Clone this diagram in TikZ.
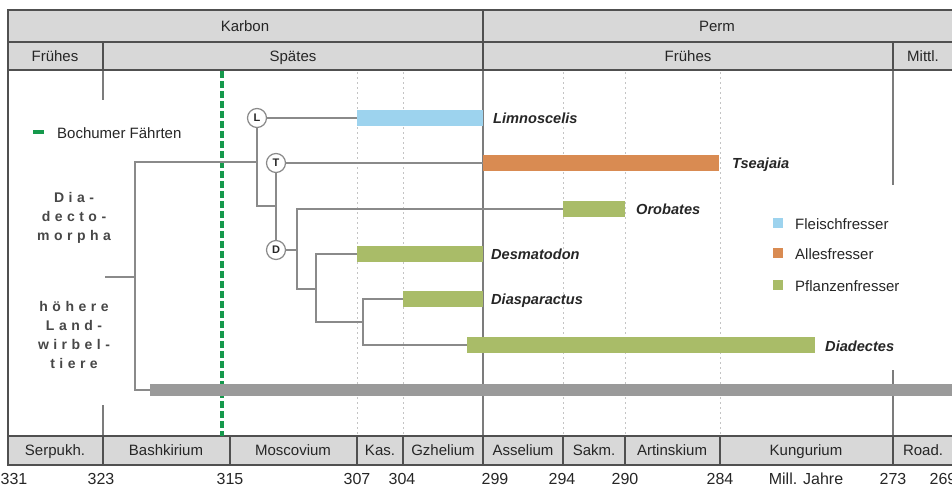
\documentclass[tikz,border=0pt]{standalone}
\usepackage{fontspec}
\setmainfont{Liberation Sans}
\definecolor{hdr}{HTML}{D8D8D8}
\definecolor{frm}{HTML}{505050}
\definecolor{treec}{HTML}{8A8A8A}
\definecolor{carn}{HTML}{9DD3EE}
\definecolor{omni}{HTML}{D98B52}
\definecolor{herb}{HTML}{A9BC68}
\definecolor{barg}{HTML}{9A9A9A}
\definecolor{trk}{HTML}{15994C}
\definecolor{txt}{HTML}{262626}
\definecolor{gridc}{HTML}{C4C4C4}
\begin{document}
\begin{tikzpicture}[x=1pt,y=-1pt,
  every node/.style={text=txt, inner sep=0pt},
  hfont/.style={font=\fontsize{15}{17}\selectfont, anchor=base},
  numfont/.style={font=\fontsize{16}{18}\selectfont, anchor=base},
  species/.style={font=\fontsize{14.6}{17}\selectfont\bfseries\itshape, anchor=base west},
  legtext/.style={font=\fontsize{15}{17}\selectfont, anchor=base west},
  spaced/.style={font=\fontsize{14}{19}\selectfont\bfseries\addfontfeature{LetterSpace=32}, text=txt!85, align=center},
  frame/.style={draw=frm, line width=1.4pt},
  divline/.style={draw=treec!90!black, line width=1.4pt},
  gridline/.style={draw=gridc, line width=0.9pt, dash pattern=on 2pt off 3pt},
  tree/.style={draw=treec, line width=1.4pt},
  bar/.style={rectangle, anchor=west, minimum height=16pt},
  circ/.style={circle, draw=treec, line width=1.2pt, fill=white, minimum size=19pt, font=\fontsize{11}{12}\selectfont\bfseries},
  legsq/.style={rectangle, minimum size=10pt},
  trackline/.style={draw=trk, line width=3.6pt, dash pattern=on 7pt off 3pt}
]
\useasboundingbox (0,0) rectangle (952,488);
% header and bottom fills
\fill[hdr] (8,10) rectangle (952,70);
\fill[hdr] (8,436) rectangle (952,465);
% dotted stage lines
\foreach \x in {357,403,563,625,720} \draw[gridline] (\x,72) -- (\x,434);
% solid dividers in plot area
\draw[divline] (483,70) -- (483,436);
\draw[divline] (893,70) -- (893,185);
\draw[divline] (893,370) -- (893,436);
\draw[divline] (103,70) -- (103,100);
\draw[divline] (103,405) -- (103,436);
% frame
\draw[frame] (952,10) -- (8,10) -- (8,465) -- (952,465);
\draw[frame] (8,42) -- (952,42);
\draw[frame] (8,70) -- (952,70);
\draw[frame] (8,436) -- (952,436);
\draw[frame] (483,10) -- (483,70);
\draw[frame] (103,42) -- (103,70);
\draw[frame] (893,42) -- (893,70);
\foreach \x in {103,230,357,403,483,563,625,720,893} \draw[frame] (\x,436) -- (\x,465);
% header texts
\node[hfont] (karbon) at (245,31) {Karbon};
\node[hfont] (perm) at (717,31) {Perm};
\node[hfont] (fruehK) at (55,61) {Frühes};
\node[hfont] (spaetK) at (293,61) {Spätes};
\node[hfont] (fruehP) at (688,61) {Frühes};
\node[hfont] (mittl) at (923,61) {Mittl.};
% stage names
\node[hfont] (serp) at (55,455) {Serpukh.};
\node[hfont] (bash) at (166,455) {Bashkirium};
\node[hfont] (mosc) at (293,455) {Moscovium};
\node[hfont] (kas) at (380,455) {Kas.};
\node[hfont] (gzhe) at (443,455) {Gzhelium};
\node[hfont] (asse) at (523,455) {Asselium};
\node[hfont] (sakm) at (594,455) {Sakm.};
\node[hfont] (arti) at (672,455) {Artinskium};
\node[hfont] (kung) at (806,455) {Kungurium};
\node[hfont] (road) at (923,455) {Road.};
% numbers
\node[numfont] (n331) at (14,484) {331};
\node[numfont] (n323) at (101,484) {323};
\node[numfont] (n315) at (230,484) {315};
\node[numfont] (n307) at (357,484) {307};
\node[numfont] (n304) at (402,484) {304};
\node[numfont] (n299) at (495,484) {299};
\node[numfont] (n294) at (562,484) {294};
\node[numfont] (n290) at (625,484) {290};
\node[numfont] (n284) at (720,484) {284};
\node[numfont] (mill) at (806,484) {Mill. Jahre};
\node[numfont] (n273) at (893,484) {273};
\node[numfont] (n269) at (943,484) {269};
% track line
\coordinate (trtop) at (222,71);
\coordinate (trbot) at (222,436);
\draw[trackline] (trtop) -- (trbot);
% left texts
\coordinate (legdA) at (33,132);
\coordinate (legdB) at (44,132);
\draw[draw=trk, line width=4.5pt] (legdA) -- (legdB);
\node[legtext] (bochum) at (57,138) {Bochumer Fährten};
\node[spaced] (diadecto) at (74,218) {Dia-\\decto-\\morpha};
\node[spaced] (hoehere) at (74,335) {höhere\\Land-\\wirbel-\\tiere};
% bars
\node[bar, fill=carn, minimum width=126pt] (limb) at (357,118) {};
\node[bar, fill=omni, minimum width=236pt] (tseb) at (483,163) {};
\node[bar, fill=herb, minimum width=62pt] (orob) at (563,209) {};
\node[bar, fill=herb, minimum width=126pt] (desb) at (357,254) {};
\node[bar, fill=herb, minimum width=80pt] (diasb) at (403,299) {};
\node[bar, fill=herb, minimum width=348pt] (diadb) at (467,345) {};
\node[bar, fill=barg, minimum width=802pt, minimum height=12pt] (grayb) at (150,390) {};
% species labels
\node[species] (limn) at (493,123) {Limnoscelis};
\node[species] (tsea) at (732,168) {Tseajaia};
\node[species] (orobt) at (636,214) {Orobates};
\node[species] (desm) at (491,259) {Desmatodon};
\node[species] (dias) at (491,304) {Diasparactus};
\node[species] (diad) at (825,351) {Diadectes};
% legend
\node[legsq, fill=carn] (sq1) at (778,223) {};
\node[legsq, fill=omni] (sq2) at (778,253) {};
\node[legsq, fill=herb] (sq3) at (778,285) {};
\node[legtext] (lg1) at (795,229) {Fleischfresser};
\node[legtext] (lg2) at (795,259) {Allesfresser};
\node[legtext] (lg3) at (795,291) {Pflanzenfresser};
% tree
\node[circ] (L) at (257,118) {L};
\node[circ] (T) at (276,163) {T};
\node[circ] (D) at (276,250) {D};
\coordinate (stub) at (105,277);
\coordinate (rootv) at (135,277);
\coordinate (j1) at (257,162);
\coordinate (j2) at (257,206);
\coordinate (j3) at (276,206);
\coordinate (dsplit) at (297,250);
\coordinate (k1) at (297,289);
\coordinate (k2) at (316,289);
\coordinate (m1) at (316,322);
\coordinate (m2) at (363,322);
\coordinate (p1) at (363,345);
\draw[tree] (stub) -- (rootv);
\draw[tree] (grayb.west) -| (j1 -| rootv) -- (j1);
\draw[tree] (L) -- (limb.west);
\draw[tree] (L.south) -- (j2) -- (j3);
\draw[tree] (T) -- (tseb.west);
\draw[tree] (T.south) -- (D.north);
\draw[tree] (D.east) -- (dsplit);
\draw[tree] (orob.west) -| (k1) -- (k2);
\draw[tree] (desb.west) -| (m1) -- (m2);
\draw[tree] (diasb.west) -| (p1) -- (diadb.west);
\end{tikzpicture}
\end{document}
